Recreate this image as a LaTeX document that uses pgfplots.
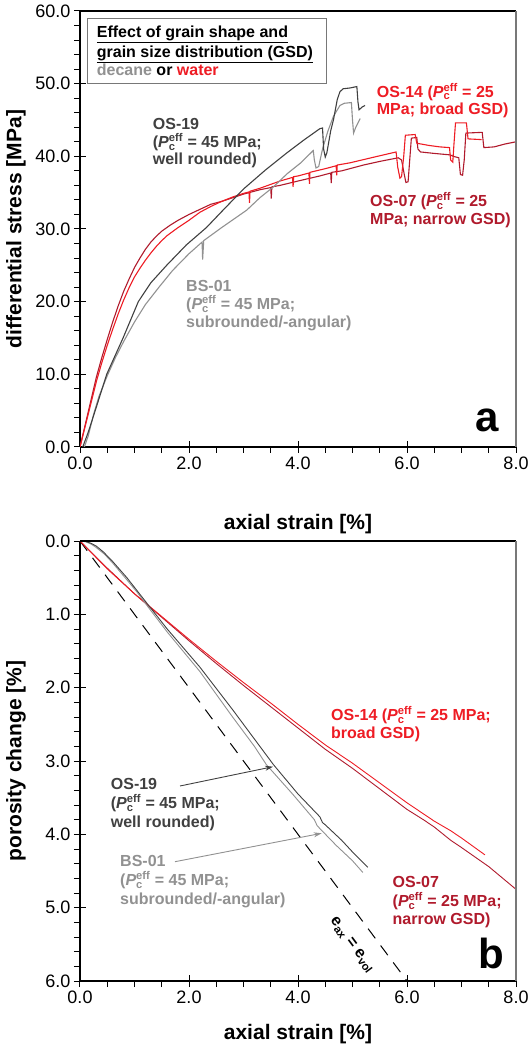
\documentclass[border=0pt]{standalone}
\usepackage{pgfplots}
\pgfplotsset{compat=1.18}
\usepackage{fontspec}
\setmainfont{Liberation Sans}
\usetikzlibrary{arrows.meta}
\definecolor{dgray}{RGB}{64,64,64}
\definecolor{lgray}{RGB}{145,145,145}
\definecolor{bred}{RGB}{238,28,36}
\definecolor{dred}{RGB}{176,26,44}
\definecolor{frgray}{RGB}{120,120,120}
\newcommand{\Pc}{\textit{P}\rlap{\textsubscript{c}}\textsuperscript{eff}}
\newcommand{\ann}{\fontsize{16}{18}\selectfont\bfseries}
\pgfplotsset{
  myaxis/.style={
    scale only axis, width=436pt,
    xmin=0, xmax=8, xtick={0,2,4,6,8}, minor x tick num=3,
    axis line style={-, black, line width=1.2pt},
    tick align=center, major tick length=12pt, minor tick length=6pt,
    tick style={black, line width=1pt},
    minor x tick style={yshift=-3pt}, minor y tick style={xshift=-3pt},
    ticklabel style={font=\fontsize{18}{20}\selectfont},
    /pgf/number format/fixed, /pgf/number format/fixed zerofill,
    /pgf/number format/precision=1, /pgf/number format/assume math mode=true,
  }
}
\begin{document}
\begin{tikzpicture}[x=1pt,y=1pt]
% ---------------- panel a ----------------
\begin{axis}[myaxis, at={(80pt,597pt)}, anchor=south west, height=436pt,
  ymin=0, ymax=60, ytick={0,10,...,60}, minor y tick num=4,
  axis x line*=bottom, axis y line*=left]
% OS-07 dark red
\addplot[dred, line width=1.1pt] coordinates {
(0,0) (0.1,3.2) (0.2,6.4) (0.3,9.6) (0.4,12.3) (0.5,14.8) (0.6,17.2) (0.7,19.4) (0.8,21.4)
(0.9,23.1) (1.0,24.7) (1.1,26.0) (1.2,27.2) (1.3,28.2) (1.4,29.0) (1.5,29.7) (1.65,30.5)
(1.8,31.2) (2.0,32.0) (2.2,32.7) (2.4,33.4) (2.6,33.8) (2.8,34.3) (3.0,34.8) (3.3,35.4)
(3.5,35.7) (3.51,34.2) (3.52,35.8) (3.67,36.0) (4.0,36.6) (4.4,37.3) (4.6,37.7) (4.61,36.3)
(4.62,37.8) (4.8,38.0) (5.2,38.8) (5.5,39.3) (5.84,39.8) (5.9,39.5)
(5.95,37.5) (5.98,36.4) (6.02,36.5) (6.05,39.5) (6.08,42.5) (6.18,42.6) (6.2,41.0) (6.25,40.6)
(6.5,40.4) (6.79,40.2) (6.85,40.0) (6.95,39.8) (6.98,37.5) (7.02,37.4) (7.05,39.5) (7.08,43.2)
(7.38,43.3) (7.41,41.2) (7.6,41.3) (7.8,41.7) (8.0,42.0)};
% OS-14 red
\addplot[bred, line width=1.1pt] coordinates {
(0,0) (0.1,3.0) (0.2,6.0) (0.3,9.0) (0.4,11.6) (0.5,14.0) (0.6,16.2) (0.7,18.3) (0.8,20.2)
(0.9,21.9) (1.0,23.4) (1.1,24.6) (1.2,25.7) (1.3,26.7) (1.4,27.6) (1.5,28.4) (1.6,29.1)
(1.8,30.2) (2.0,31.2) (2.2,32.3) (2.4,33.1) (2.6,33.8) (2.8,34.4) (3.0,34.9) (3.1,35.1)
(3.11,33.6) (3.12,35.2) (3.3,35.6) (3.67,36.6) (3.9,37.1) (3.91,35.8) (3.92,37.2) (4.0,37.3)
(4.2,37.7) (4.21,36.2) (4.22,37.8) (4.5,38.3) (4.7,38.7) (4.71,37.4) (4.72,38.8) (4.95,39.1)
(5.4,39.9) (5.8,40.6) (5.83,38.5) (5.87,37.0) (5.9,37.2) (5.94,40)
(5.97,42.9) (6.15,43.0) (6.18,41.8) (6.4,41.5) (6.6,41.3) (6.78,41.2) (6.8,39.5) (6.84,39.2)
(6.86,41.5) (6.89,44.6) (7.09,44.6) (7.12,42.4) (7.37,42.3)};
% BS-01 light gray
\addplot[lgray, line width=1.1pt] coordinates {
(0.08,0) (0.15,1.5) (0.25,4.5) (0.35,7) (0.5,9.8) (0.65,12.3) (0.8,14.5) (1.0,17.2)
(1.2,19.6) (1.45,22) (1.7,24.3) (2.0,26.6) (2.24,28.2) (2.25,25.8) (2.27,28.4) (2.6,30.2)
(3.06,32.6) (3.3,34.3) (3.55,35.8) (3.8,37.6) (4.05,39.1) (4.28,40.8) (4.3,39.5) (4.33,38.4) (4.38,38.6) (4.45,41)
(4.55,43.5) (4.65,45.5) (4.77,47) (4.85,47.3) (4.98,47.4) (5.0,45) (5.02,43.2) (5.06,44)
(5.14,45.2)};
% OS-19 dark gray
\addplot[dgray, line width=1.1pt] coordinates {
(0.05,0) (0.15,2) (0.3,5.5) (0.49,10) (0.79,15) (1.07,20) (1.3,22.6) (1.59,25) (1.95,27.8)
(2.32,30.2) (2.6,32.4) (3.0,35.5) (3.4,38.1) (3.8,40.5) (4.1,42.2) (4.4,43.8) (4.45,43.9)
(4.47,41) (4.5,39.9) (4.53,40.5) (4.6,43.5) (4.65,45) (4.72,47.8) (4.77,48.9) (4.83,49.3)
(4.95,49.4) (5.08,49.6) (5.1,47.5) (5.12,46.4) (5.18,46.8) (5.23,47.0)};
\end{axis}
\draw[black, line width=1.2pt] (80,1033) -- (516,1033);
\draw[frgray, line width=1.2pt] (516,597) -- (516,1033);
% legend box
\draw[frgray, line width=1pt, fill=white] (87.3,960) rectangle (326,1025.7);
\node[anchor=base west, inner sep=0pt, font=\ann] at (96.7,1006.7) {\underline{Effect of grain shape and}};
\node[anchor=base west, inner sep=0pt, font=\ann] at (96.7,986.7) {\underline{grain size distribution (GSD)}};
\node[anchor=base west, inner sep=0pt, font=\ann] at (96.7,968) {\textcolor{lgray}{decane} or \textcolor{bred}{water}};
% annotations a
\node[anchor=base west, inner sep=0pt, font=\ann, dgray] at (152.7,914) {OS-19};
\node[anchor=base west, inner sep=0pt, font=\ann, dgray] at (152.7,896.5) {(\Pc{} = 45 MPa;};
\node[anchor=base west, inner sep=0pt, font=\ann, dgray] at (152.7,879) {well rounded)};
\node[anchor=base west, inner sep=0pt, font=\ann, lgray] at (186,752.3) {BS-01};
\node[anchor=base west, inner sep=0pt, font=\ann, lgray] at (186,734) {(\Pc{} = 45 MPa;};
\node[anchor=base west, inner sep=0pt, font=\ann, lgray] at (186,716) {subrounded/-angular)};
\node[anchor=base west, inner sep=0pt, font=\ann, bred] at (376.7,946.7) {OS-14 (\Pc{} = 25};
\node[anchor=base west, inner sep=0pt, font=\ann, bred] at (376.7,929) {MPa; broad GSD)};
\node[anchor=base west, inner sep=0pt, font=\ann, dred] at (370,837.3) {OS-07 (\Pc{} = 25};
\node[anchor=base west, inner sep=0pt, font=\ann, dred] at (370,819) {MPa; narrow GSD)};
\node[anchor=base east, inner sep=0pt, font=\fontsize{42}{42}\selectfont\bfseries] at (499,612) {a};
% axis labels a
\node[anchor=base, inner sep=0pt, font=\fontsize{21}{21}\selectfont\bfseries] at (298,514) {axial strain [\%]};
\node[rotate=90, inner sep=0pt, font=\fontsize{21}{21}\selectfont\bfseries] at (16,815) {differential stress [MPa]};
% ---------------- panel b ----------------
\begin{axis}[myaxis, at={(80pt,63pt)}, anchor=south west, height=440pt,
  ymin=0, ymax=6, ytick={0,1,...,6}, minor y tick num=4, y dir=reverse,
  axis x line*=bottom, axis y line*=left]
\addplot[black, line width=1pt, dash pattern=on 12pt off 9pt] coordinates {(0,0) (6,6)};
% OS-07 dark red
\addplot[dred, line width=0.9pt] coordinates {
(0,0) (0.5,0.37) (1.0,0.72) (1.5,1.04) (2.0,1.36) (2.5,1.67) (3.0,1.97) (3.5,2.26) (4.0,2.55)
(4.5,2.84) (5.0,3.1) (5.5,3.38) (6.0,3.66) (6.3,3.8) (6.5,3.9) (6.8,4.08) (7.0,4.18) (7.5,4.44) (8.0,4.75)};
% OS-14 red
\addplot[bred, line width=0.9pt] coordinates {
(0,0) (0.5,0.38) (1.0,0.72) (1.5,1.03) (2.0,1.34) (2.5,1.64) (3.0,1.93) (3.5,2.21) (4.0,2.5)
(4.5,2.78) (5.0,3.03) (5.5,3.3) (6.0,3.57) (6.5,3.82) (6.8,3.95) (7.0,4.05) (7.43,4.28)};
% BS-01 light gray
\addplot[lgray, line width=0.9pt] coordinates {
(0,0) (0.1,0.01) (0.2,0.04) (0.3,0.09) (0.45,0.18) (0.6,0.3) (0.85,0.52) (1.05,0.7) (1.25,0.9)
(1.6,1.24) (2.2,1.78) (2.8,2.4) (3.2,2.8) (3.42,3.05) (3.9,3.45) (4.3,3.8) (4.35,3.88) (4.4,3.92)
(4.7,4.15) (5.0,4.36) (5.19,4.52)};
% OS-19 dark gray
\addplot[dgray, line width=0.9pt] coordinates {
(0,0) (0.1,0.005) (0.2,0.03) (0.3,0.07) (0.43,0.15) (0.6,0.28) (0.86,0.5) (1.05,0.68) (1.25,0.87)
(1.6,1.2) (2.2,1.72) (2.8,2.3) (3.2,2.7) (3.55,3.05) (4.0,3.45) (4.4,3.76) (4.45,3.84) (4.5,3.87)
(4.8,4.08) (5.0,4.24) (5.28,4.45)};
\end{axis}
\draw[black, line width=1.2pt] (80,503) -- (516,503);
\draw[frgray, line width=1.2pt] (516,63) -- (516,503);
% annotations b
\node[anchor=base west, inner sep=0pt, font=\ann, bred] at (331,323) {OS-14 (\Pc{} = 25 MPa;};
\node[anchor=base west, inner sep=0pt, font=\ann, bred] at (331,305) {broad GSD)};
\node[anchor=base west, inner sep=0pt, font=\ann, dgray] at (110.7,254) {OS-19};
\node[anchor=base west, inner sep=0pt, font=\ann, dgray] at (110.7,235) {(\Pc{} = 45 MPa;};
\node[anchor=base west, inner sep=0pt, font=\ann, dgray] at (110.7,216) {well rounded)};
\draw[dgray, line width=0.9pt, -{Stealth[length=8pt,width=5pt]}] (180,258) -- (273,277.3);
\node[anchor=base west, inner sep=0pt, font=\ann, lgray] at (120,177) {BS-01};
\node[anchor=base west, inner sep=0pt, font=\ann, lgray] at (120,158) {(\Pc{} = 45 MPa;};
\node[anchor=base west, inner sep=0pt, font=\ann, lgray] at (120,139) {subrounded/-angular)};
\draw[lgray, line width=0.9pt, -{Stealth[length=8pt,width=5pt]}] (175,182.3) -- (321.7,210.7);
\node[anchor=base west, inner sep=0pt, font=\ann, dred] at (392.5,156) {OS-07};
\node[anchor=base west, inner sep=0pt, font=\ann, dred] at (392.5,137.5) {(\Pc{} = 25 MPa;};
\node[anchor=base west, inner sep=0pt, font=\ann, dred] at (392.5,119) {narrow GSD)};
\node[rotate=-53.4, inner sep=0pt, font=\ann] at (352,99) {e\textsubscript{ax} = e\textsubscript{vol}};
\node[anchor=base east, inner sep=0pt, font=\fontsize{42}{42}\selectfont\bfseries] at (504,75) {b};
\node[anchor=base, inner sep=0pt, font=\fontsize{21}{21}\selectfont\bfseries] at (298,5) {axial strain [\%]};
\node[rotate=90, inner sep=0pt, font=\fontsize{21}{21}\selectfont\bfseries] at (16,283) {porosity change [\%]};
\pgfresetboundingbox
\path[use as bounding box] (0,0) rectangle (532,1044);
\end{tikzpicture}
\end{document}
